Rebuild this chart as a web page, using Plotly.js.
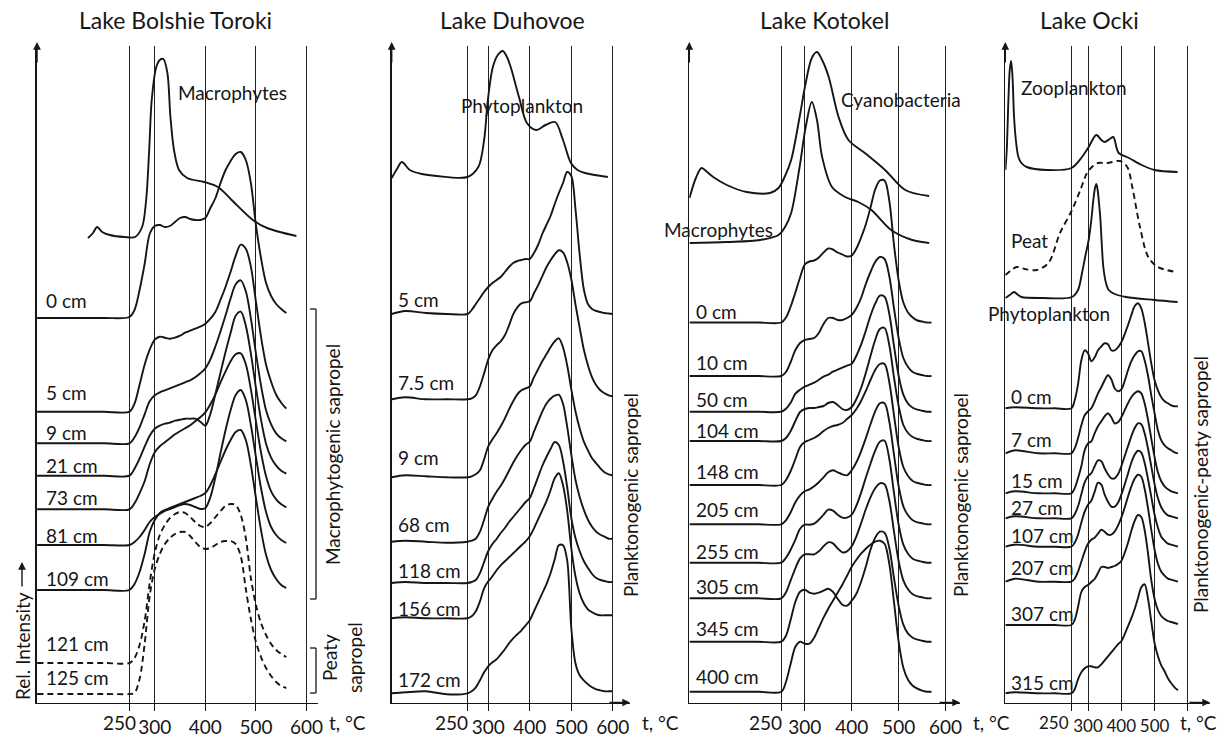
<!DOCTYPE html>
<html><head><meta charset="utf-8">
<script src="https://cdn.plot.ly/plotly-3.0.1.min.js"></script>
<style>html,body{margin:0;padding:0;background:#fff}#chart{width:1228px;height:738px}</style>
</head><body><div id="chart"></div>
<script>
// ================= DATA =================
// ---- Panel 1: Lake Bolshie Toroki ----
const p1Temps = [67.5,150,200,250,260,270,280,290,300,310,320,330,340,350,360,370,380,390,400,410,420,430,440,450,460,470,480,490,500,510,520,530,540,550,560];
const p1_0cm   = [0,0,0,1,8,28,54,84,92,93,91,92,96,100,101,99,98,98,100,110,120,135,148,157,164,166,158,135,93,60,35,22,14,9,5];
const p1_5cm   = [0,0,0,0,8,27,47,62,72,75,74,73,74,76,79,81,83,85,88,93,100,112,125,140,156,167,163,145,110,75,47,30,17,9,3];
const p1_9cm   = [0,0,0,0,6,16,29,42,48,51,53,55,57,59,61,63,66,70,75,84,97,112,128,145,159,163,152,125,90,58,33,19,10,5,2];
const p1_21cm  = [0,0,0,0,7,17,29,40,47,50,52,53,55,56,57,57,57,54,50,62,82,103,124,143,160,164,150,122,88,56,32,18,10,5,2];
const p1_73cm  = [0,0,0,0,6,16,28,45,57,63,67,71,75,78,81,84,88,92,97,105,115,127,138,148,155,156,145,120,88,57,33,18,10,5,2];
const p1_81cm  = [0,0,0,0,3,8,15,23,28,31,34,36,38,40,41,40,38,36,37,48,68,92,115,135,150,155,145,120,88,57,33,18,10,5,2];
const p1_109cm = [0,0,0,0,6,18,36,58,70,77,80,82,84,86,88,90,92,94,97,105,116,128,140,150,158,160,150,125,92,60,35,20,11,5,2];
const p1_121cm = [0,0,0,0,5,18,42,80,110,128,138,145,149,151,150,146,141,137,136,140,146,152,157,159,158,148,125,85,58,40,28,19,13,9,6];
const p1_125cm = [0,0,0,0,1,15,50,98,125,140,150,156,160,162,162,158,152,147,145,146,149,152,153,153,150,138,105,75,52,37,26,18,12,8,6];
const p1Samples = ['0 cm','5 cm','9 cm','21 cm','73 cm','81 cm','109 cm','121 cm','125 cm'];
const p1Series  = [p1_0cm,p1_5cm,p1_9cm,p1_21cm,p1_73cm,p1_81cm,p1_109cm,p1_121cm,p1_125cm];
const p1Dashed  = [false,false,false,false,false,false,false,true,true];
const p1MacroTemps = [168,178,186,196,211,240,261,275,283,289,294,303,310,317,325,331,338,348,364,398,425,452,494,522,580];
const p1MacroInt   = [-1,4,10,5,2,0,0,10,37,87,137,170,177,178,164,120,87,67,59,55,50,37,17,9,1];

// ---- Panel 2: Lake Duhovoe ----
const p2Temps = [67.5,100,150,200,250,260,270,280,290,300,310,320,330,340,350,360,370,380,390,400,410,420,430,440,450,460,470,480,490,500,510,520,530,540,550,560,570,580,590,600];
const p2_5cm   = [0,3,1,0,0,4,10,16,22,27,31,34,37,42,47,51,53,54,55,55,61,69,80,89,98,110,121,131,142,138,105,60,25,10,5,3,2,1,0.5,0];
const p2_7_5cm = [0,2,0,0,0,1,4,13,26,40,49,54,58,64,74,85,92,96,97,98,106,114,123,132,139,145,149,147,137,120,95,72,50,34,22,14,9,6,4,3];
const p2_9cm   = [0,2,1,0,0,1,3,7,18,31,38,44,51,59,68,76,83,87,89,91,100,108,116,123,130,136,139,130,112,88,66,49,36,27,19,14,9,5,3,2];
const p2_68cm  = [0,1,0,-1,0,1,3,10,22,35,43,50,56,63,71,79,86,92,97,100,110,120,130,138,143,146,147,138,115,87,62,45,32,22,15,10,7,5,3,3];
const p2_118cm = [0,1,0,0,0,1,3,10,21,32,39,44,50,55,61,66,71,76,81,85,95,106,117,126,134,141,138,122,96,65,45,32,22,15,9,5,3,2,1,1];
const p2_156cm = [0,1,0,0,0,2,7,17,30,37,42,48,53,57,61,65,69,73,77,82,90,99,108,117,128,140,145,133,108,70,42,25,15,9,6,4,3,3,3,3];
const p2_172cm = [0,1,2,-1,0,2,6,13,21,27,31,34,39,44,50,55,59,63,68,73,82,91,100,109,120,134,148,148,133,65,30,18,13,9,6,4,3,2,2,2];
const p2Samples = ['5 cm','7.5 cm','9 cm','68 cm','118 cm','156 cm','172 cm'];
const p2Series  = [p2_5cm,p2_7_5cm,p2_9cm,p2_68cm,p2_118cm,p2_156cm,p2_172cm];
const p2PhytoTemps = [67.5,80,92,111,140,176,250,276,290,299,311,323,335,345,354,374,393,415,438,461,480,499,515,533,588];
const p2PhytoInt   = [-1,8,15,7,3,1,0,10,37,77,110,122,126,120,110,80,54,47,52,55,37,14,7,4,0];

// ---- Panel 3: Lake Kotokel ----
const p3Temps = [54.5,150,200,250,260,270,280,290,300,310,320,330,340,350,360,370,380,390,400,410,420,430,440,450,460,470,480,490,500,510,520,530,540,550,560,570];
const p3_0cm   = [0,0,0,0,5,16,30,45,58,61,62,65,70,74,73,70,68,66,67,74,85,98,115,133,142,142,122,78,42,20,10,5,2,1,0,0];
const p3_10cm  = [0,0,0,0,4,14,26,33,36,37,38,43,52,58,58,56,56,58,61,68,78,92,104,114,119,117,100,68,38,18,9,4,2,1,0,0];
const p3_50cm  = [0,0,0,0,3,9,18,22,25,27,29,32,35,37,40,42,44,46,48,56,67,81,96,108,116,115,98,66,36,17,8,4,2,1,0,0];
const p3_104cm = [0,0,0,0,3,10,20,29,32,33,33,34,35,38,39,36,32,31,34,42,53,68,85,101,112,113,96,64,35,16,8,4,2,1,0,0];
const p3_148cm = [0,0,0,0,5,14,26,38,43,45,47,50,54,57,59,60,62,66,70,76,84,94,105,115,121,121,103,70,38,18,9,4,2,1,0,0];
const p3_205cm = [0,0,0,0,4,12,22,29,33,35,38,42,47,52,54,52,50,49,54,62,73,86,100,113,121,121,103,70,38,18,9,4,2,1,0,0];
const p3_255cm = [0,0,0,0,5,13,23,34,38,38,39,43,48,53,52,48,45,45,48,57,70,85,99,112,121,122,104,70,38,18,9,4,2,1,0,0];
const p3_305cm = [0,0,0,0,6,18,30,40,44,44,44,47,52,56,55,50,46,47,52,62,75,89,101,110,115,114,98,67,37,18,9,4,2,1,0,0];
const p3_345cm = [0,0,0,0,6,22,40,50,52,49,48,49,51,53,50,43,37,36,41,48,60,75,92,104,110,109,94,64,36,17,8,4,2,1,0,0];
const p3_400cm = [0,0,0,0,10,28,45,50,48,48,54,64,74,83,91,99,107,116,125,132,138,143,147,150,151,148,128,90,50,24,12,6,3,1,0,0];
const p3Samples = ['0 cm','10 cm','50 cm','104 cm','148 cm','205 cm','255 cm','305 cm','345 cm','400 cm'];
const p3Series  = [p3_0cm,p3_10cm,p3_50cm,p3_104cm,p3_148cm,p3_205cm,p3_255cm,p3_305cm,p3_345cm,p3_400cm];
const p3CyanoTemps = [54.5,68,80,92,105,134,176,226,244,258,271,289,302,315,326,338,351,372,393,428,471,514,565];
const p3CyanoInt   = [-2,18,28,24,19,11,4,3,8,20,36,79,113,138,144,135,119,79,56,43,26,6,0];
const p3MacroTemps = [54.5,134,205,244,258,271,289,302,315,326,337,358,386,414,442,484,529,565];
const p3MacroInt   = [0,1,3,8,16,30,76,116,141,123,86,56,46,41,33,13,3,0];

// ---- Panel 4: Lake Ocki ----
const p4Temps = [52,80,150,200,250,260,270,280,290,300,310,320,330,340,350,360,370,380,390,400,410,420,430,440,450,460,470,480,490,500,510,520,530,540,550,560,570];
const p4_0cm   = [0,1,0,0,0,8,24,48,58,55,47,51,58,62,65,64,58,58,61,66,74,83,93,102,105,100,86,66,45,28,18,11,7,5,3,2,2];
const p4_7cm   = [0,3,0,0,0,5,15,28,38,42,45,52,60,66,73,78,74,65,62,64,72,83,92,98,102,102,93,78,58,40,23,13,8,5,3,1,0];
const p4_15cm  = [0,2,0,0,0,5,15,27,43,50,52,60,67,72,77,80,76,70,71,76,83,90,96,100,102,100,90,74,55,36,21,12,7,4,2,1,0];
const p4_27cm  = [0,2,0,0,0,4,12,24,36,42,45,52,58,57,50,44,40,40,44,52,62,72,82,90,95,94,85,70,52,34,20,11,6,3,2,1,0];
const p4_107cm = [0,2,0,0,0,4,12,24,35,42,46,55,64,62,52,45,40,40,44,52,62,73,84,92,96,94,84,68,50,32,19,10,6,3,2,1,0];
const p4_207cm = [0,3,0,0,0,3,10,20,30,38,42,44,48,52,50,47,47,50,56,64,74,85,95,103,107,105,93,74,52,32,18,10,6,3,2,1,0];
const p4_307cm = [0,0,0,0,0,5,18,33,38,40,43,46,52,58,58,57,58,59,61,64,72,82,94,104,110,108,95,72,45,26,15,9,6,4,3,2,1];
const p4_315cm = [0,1,0,0,0,4,14,21,25,27,27,26,26,29,33,37,41,45,49,52,59,67,75,84,95,106,109,95,72,50,37,28,22,15,10,6,3];
const p4Samples = ['0 cm','7 cm','15 cm','27 cm','107 cm','207 cm','307 cm','315 cm'];
const p4Series  = [p4_0cm,p4_7cm,p4_15cm,p4_27cm,p4_107cm,p4_207cm,p4_307cm,p4_315cm];
const p4ZooTemps = [52,56,61,65,69,73,78,84,91,100,116,176,250,282,302,325,340,350,365,376,392,423,461,500,569];
const p4ZooInt   = [0,20,70,100,109,95,53,28,13,7,3,0,2,13,23,35,30,28,31,33,17,12,5,0,-2];
const p4PeatTemps = [52,70,86,110,146,181,216,252,277,297,315,330,358,396,418,433,456,481,510,564];
const p4PeatInt   = [-3,2,5,3,2,9,39,62,82,99,106,109,109,111,105,85,45,15,5,0];
const p4PhytoTemps = [52,65,78,90,100,165,252,270,282,292,302,310,316,321,325,329,333,337,342,346,354,362,380,414,500,569];
const p4PhytoInt   = [0,3,6,3,1,0,1,8,25,42,58,78,98,110,114,108,95,80,50,31,15,8,4,1,-2,-4];

const tickTemps = [250,300,400,500,600];

// ================= LAYOUT HELPERS (positions / styles) =================
const W = 1228, H = 738;
const px = x => x / W, py = y => 1 - y / H;
const FONT = 'Lato, "Open Sans", sans-serif';
const INK = '#161616';
const AXIS_BOTTOM = 702.5, AXIS_TOP = 46;
const YMAX = AXIS_BOTTOM - AXIS_TOP;
const yOf = pix => AXIS_BOTTOM - pix;   // pixel -> stacked units

const panels = [
  {d:[37,318],    tRef:410, xRef:210.4,  s:0.5059, arrow:false, tick:19},
  {d:[391.7,630], tRef:410, xRef:533.94, s:0.4152, arrow:true,  tick:19},
  {d:[689.3,960], tRef:410, xRef:856.4,  s:0.4694, arrow:true,  tick:19},
  {d:[1005.3,1210], tRef:400, xRef:1121.3, s:0.333, arrow:true, tick:17}
];
panels.forEach(p => { p.r = [p.tRef + (p.d[0]-p.xRef)/p.s, p.tRef + (p.d[1]-p.xRef)/p.s]; });

const p1Base = [318,411.7,443.3,475.7,509.3,545,590,663,694];
const p1LabelRow = [300,393,432.7,465,497.7,535,578.3,643,677];
const p2Base = [314,399.3,477.3,541.7,583,618.3,693.3];
const p2LabelRow = [299,382.7,457.7,524,570.7,608,679.3];
const p3Base = [322.5,376,411.7,441,485,524.3,562.7,598.3,641.7,691.7];
const p3LabelRow = [311,362.7,399.3,430.7,471,509.3,551.7,586.7,628.3,676.7];
const p4Base = [408.3,453.3,493.3,518.3,546.7,581.7,625,693.3];
const p4LabelRow = [396,439.3,480.7,507.7,535.7,567.3,613.3,682.7];

const traces = [];
const annotations = [];
const shapes = [];

function curve(i, xs, ys, basePix, dash) {
  const off = yOf(basePix);
  traces.push({
    type:'scatter', mode:'lines', x: xs, y: ys.map(v => v + off),
    xaxis: 'x' + (i === 1 ? '' : i), yaxis: 'y' + (i === 1 ? '' : i),
    line: {color: INK, width: 1.9, shape: 'spline', smoothing: 0.9, dash: dash ? '6px,4px' : 'solid'},
    hoverinfo: 'skip', showlegend: false
  });
}
const labelFont = {family: FONT, size: 19, color: INK};
function text(t, x, y, opts) {
  annotations.push(Object.assign({
    text: t, xref: 'paper', yref: 'paper', x: px(x), y: py(y),
    xanchor: 'left', yanchor: 'middle', showarrow: false,
    font: labelFont
  }, opts || {}));
}
function arrow(xTip, yTip, ax, ay) {
  annotations.push({text:'', xref:'paper', yref:'paper', x:px(xTip), y:py(yTip), ax:ax, ay:ay,
    axref:'pixel', ayref:'pixel', showarrow:true, arrowhead:2, arrowsize:1.1, arrowwidth:1.4, arrowcolor:INK});
}
function seg(x0,y0,x1,y1){ shapes.push({type:'line', xref:'paper', yref:'paper', x0:px(x0), y0:py(y0), x1:px(x1), y1:py(y1), line:{color:INK, width:1.3}}); }

// ---- curves ----
curve(1, p1MacroTemps, p1MacroInt, 237, false);
p1Series.forEach((s, k) => curve(1, p1Temps, s, p1Base[k], p1Dashed[k]));
curve(2, p2PhytoTemps, p2PhytoInt, 177, false);
p2Series.forEach((s, k) => curve(2, p2Temps, s, p2Base[k], false));
curve(3, p3CyanoTemps, p3CyanoInt, 196, false);
curve(3, p3MacroTemps, p3MacroInt, 243, false);
p3Series.forEach((s, k) => curve(3, p3Temps, s, p3Base[k], false));
curve(4, p4ZooTemps, p4ZooInt, 170, false);
curve(4, p4PeatTemps, p4PeatInt, 272, true);
curve(4, p4PhytoTemps, p4PhytoInt, 298, false);
p4Series.forEach((s, k) => curve(4, p4Temps, s, p4Base[k], false));

// ---- sample labels ----
p1Samples.forEach((t,k) => text(t, 44, p1LabelRow[k]));
p2Samples.forEach((t,k) => text(t, 396, p2LabelRow[k]));
p3Samples.forEach((t,k) => text(t, 694, p3LabelRow[k]));
p4Samples.forEach((t,k) => text(t, 1009, p4LabelRow[k]));

// reference-material labels
text('Macrophytes', 176, 92);
text('Phytoplankton', 459, 105);
text('Cyanobacteria', 839, 99);
text('Macrophytes', 662, 229);
text('Zooplankton', 1019, 87);
text('Peat', 1009, 240);
text('Phytoplankton', 986, 313);

// titles
const titleFont = {family: FONT, size: 23, color: INK};
text('Lake Bolshie Toroki', 175, 20, {xanchor:'center', font:titleFont});
text('Lake Duhovoe', 512, 20, {xanchor:'center', font:titleFont});
text('Lake Kotokel', 824, 20, {xanchor:'center', font:titleFont});
text('Lake Ocki', 1089, 20, {xanchor:'center', font:titleFont});

// "250" tick labels and axis titles
const tickFont = {family: FONT, size: 19, color: INK};
const tickFontSmall = {family: FONT, size: 17, color: INK};
[[119,tickFont],[451,tickFont],[765,tickFont],[1054,tickFontSmall]].forEach(([x,f]) => text('250', x, 722, {xanchor:'center', font:f}));
[[327,'t, °C'],[640,'t, °C'],[971,'t, °C'],[1178,'t, °C']].forEach(([x,t]) => text(t, x, 722, {font:tickFont}));

// rotated group labels
text('Rel. Intensity', 22, 646, {xanchor:'center', textangle:-90});
arrow(22, 562, 0, 26);
text('Macrophytogenic sapropel', 332, 455, {xanchor:'center', textangle:-90});
text('Peaty<br>sapropel', 342, 658, {xanchor:'center', textangle:-90});
text('Planktonogenic sapropel', 630, 495, {xanchor:'center', textangle:-90});
text('Planktonogenic sapropel', 960, 495, {xanchor:'center', textangle:-90});
text('Planktonogenic-peaty sapropel', 1200, 485, {xanchor:'center', textangle:-90});

// brackets
seg(310,309,316,309); seg(316,309,316,599); seg(310,599,316,599);
seg(310,648,316,648); seg(316,648,316,693); seg(310,693,316,693);

// axis arrows
panels.forEach(p => {
  arrow(p.d[0], AXIS_TOP - 4, 0, 22);
  if (p.arrow) arrow(p.d[1], AXIS_BOTTOM, -22, 0);
});

// ---- axes ----
const layout = {
  width: W, height: H, margin: {l:0, r:0, t:0, b:0},
  paper_bgcolor: '#fff', plot_bgcolor: 'rgba(0,0,0,0)', showlegend: false,
  annotations: annotations, shapes: shapes
};
panels.forEach((p, k) => {
  const n = k === 0 ? '' : (k + 1);
  layout['xaxis' + n] = {
    domain: [px(p.d[0]), px(p.d[1])], range: p.r, anchor: 'y' + n,
    tickvals: tickTemps, ticktext: ['', '300', '400', '500', k === 3 ? '' : '600'],
    ticks: 'outside', ticklen: 7, tickwidth: 1, tickcolor: INK, tickangle: 0,
    showgrid: true, gridcolor: '#222', gridwidth: 1,
    showline: true, linecolor: INK, linewidth: 1.6, zeroline: false,
    tickfont: {family: FONT, size: p.tick, color: INK}, fixedrange: true
  };
  layout['yaxis' + n] = {
    domain: [py(AXIS_BOTTOM), py(AXIS_TOP)], range: [0, YMAX], anchor: 'x' + n,
    showline: true, linecolor: INK, linewidth: 1.6, showgrid: false, zeroline: false,
    showticklabels: false, ticks: '', fixedrange: true
  };
});

Plotly.newPlot('chart', traces, layout, {staticPlot: true, displayModeBar: false});
</script>
</body></html>
